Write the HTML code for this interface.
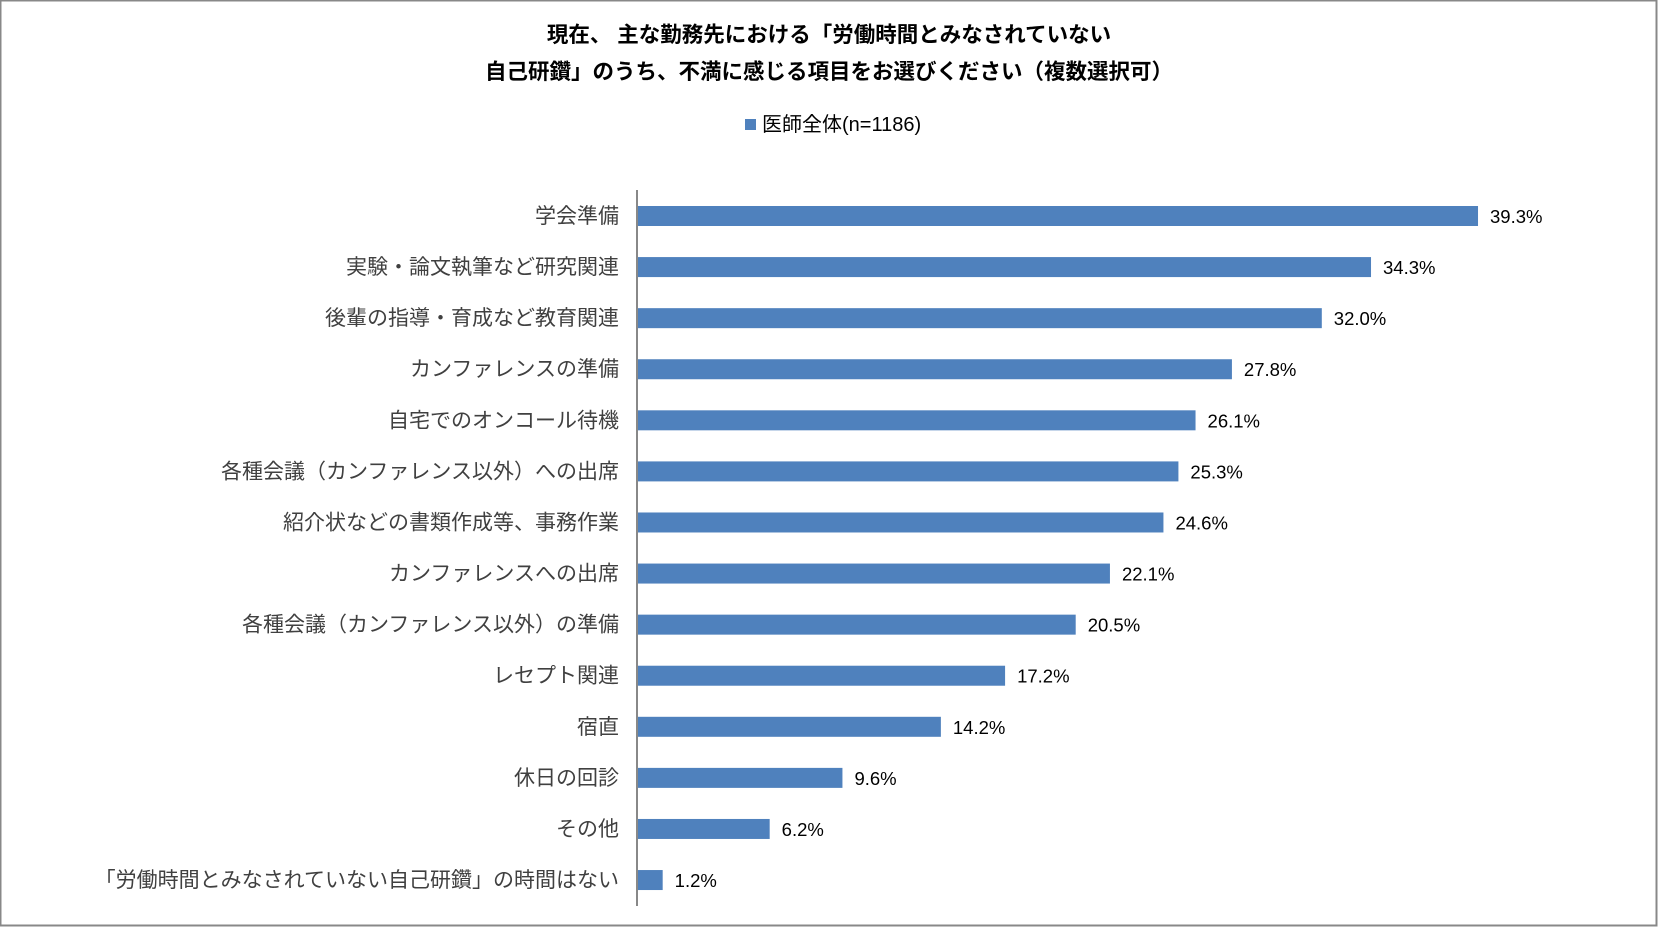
<!DOCTYPE html>
<html><head><meta charset="utf-8"><style>
body{margin:0;background:#fff;}
svg text{font-family:"Liberation Sans","Noto Sans CJK JP",sans-serif;}
</style></head><body>
<svg width="1658" height="927" xmlns="http://www.w3.org/2000/svg">
<rect x="0.5" y="0.5" width="1656" height="925" fill="#fff" stroke="#888" stroke-width="2"/>
<text x="829" y="42" text-anchor="middle" font-size="21.5" font-weight="bold" fill="#000">現在、 主な勤務先における「労働時間とみなされていない</text>
<text x="829" y="79" text-anchor="middle" font-size="21.5" font-weight="bold" fill="#000">自己研鑽」のうち、不満に感じる項目をお選びください（複数選択可）</text>
<rect x="745" y="119" width="11" height="11" fill="#4f81bd"/>
<text x="762" y="131" font-size="20" fill="#000">医師全体(n=1186)</text>
<g id="bars"></g>
<line x1="637" y1="190" x2="637" y2="906" stroke="#888" stroke-width="2"/>
</svg>
<script>
const categories=["学会準備","実験・論文執筆など研究関連","後輩の指導・育成など教育関連","カンファレンスの準備","自宅でのオンコール待機","各種会議（カンファレンス以外）への出席","紹介状などの書類作成等、事務作業","カンファレンスへの出席","各種会議（カンファレンス以外）の準備","レセプト関連","宿直","休日の回診","その他","「労働時間とみなされていない自己研鑽」の時間はない"];
const values=[39.3,34.3,32.0,27.8,26.1,25.3,24.6,22.1,20.5,17.2,14.2,9.6,6.2,1.2];
const x0=637, pxPer=21.4, yTop=216, step=51.08, barH=20;
const xScale=v=>x0+v*pxPer;
const yScale=i=>yTop+i*step;
const g=document.getElementById('bars');
const NS="http://www.w3.org/2000/svg";
categories.forEach((c,i)=>{
  const cy=yScale(i);
  const r=document.createElementNS(NS,'rect');
  r.setAttribute('x',x0);r.setAttribute('y',cy-barH/2);
  r.setAttribute('width',xScale(values[i])-x0);r.setAttribute('height',barH);
  r.setAttribute('fill','#4f81bd');
  
  
  g.appendChild(r);
  const t=document.createElementNS(NS,'text');
  t.setAttribute('x',619);t.setAttribute('y',cy+7);
  t.setAttribute('text-anchor','end');t.setAttribute('font-size','21');t.setAttribute('fill','#404040');
  t.textContent=c;
  
  
  g.appendChild(t);
  const v=document.createElementNS(NS,'text');
  v.setAttribute('x',xScale(values[i])+12);v.setAttribute('y',cy+7);
  v.setAttribute('font-size','18.5');v.setAttribute('fill','#000');
  v.textContent=values[i].toFixed(1)+'%';
  
  
  g.appendChild(v);
});
</script>
</body></html>
